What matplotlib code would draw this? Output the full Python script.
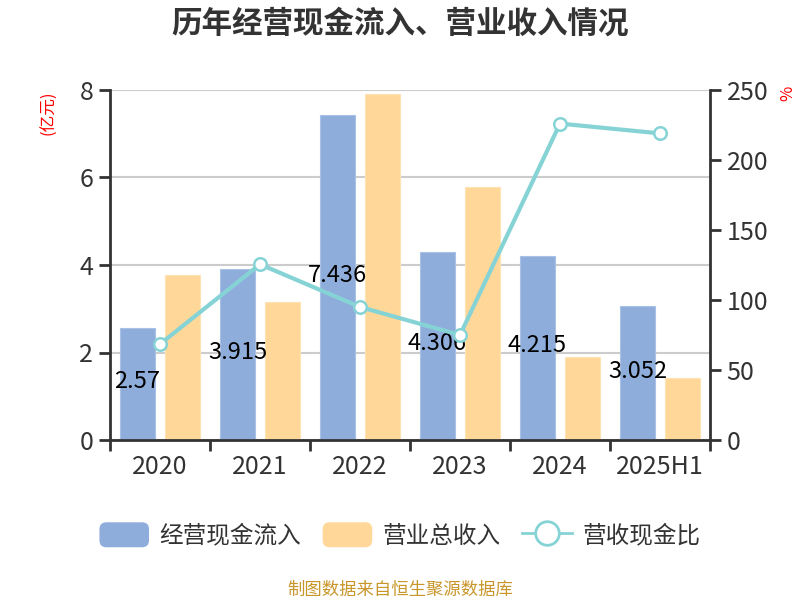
import matplotlib
matplotlib.use("Agg")
import matplotlib.pyplot as plt
import numpy as np
from matplotlib.patches import FancyBboxPatch, Patch
from matplotlib.lines import Line2D
from matplotlib.legend_handler import HandlerPatch

plt.rcParams['font.family'] = ['Noto Sans CJK SC', 'DejaVu Sans']

categories = ['2020', '2021', '2022', '2023', '2024', '2025H1']
cash_inflow = [2.57, 3.915, 7.436, 4.306, 4.215, 3.052]
revenue = [3.77, 3.15, 7.91, 5.78, 1.90, 1.42]
ratio = [68.5, 125.5, 95.0, 75.0, 226.0, 219.0]

blue = '#8FADDB'
orange = '#FFD899'
teal = '#86D3D6'
dark = '#333333'

fig = plt.figure(figsize=(8, 6), dpi=100)
ax = fig.add_axes([110/800, 160/600, 600/800, 350/600])
x = np.arange(len(categories))
w = 0.35
ax.bar(x - 0.225, cash_inflow, w, color=blue, edgecolor='#A9C1E6', linewidth=0.8, zorder=2)
ax.bar(x + 0.225, revenue, w, color=orange, edgecolor='#FFE2B3', linewidth=0.8, zorder=2)
for xi, v in zip(x, cash_inflow):
    ax.text(xi - 0.225, v / 2 + 0.05, f'{v:g}', ha='center', va='center', fontsize=17,
            color='black', zorder=3)

ax.set_xlim(-0.5, len(categories) - 0.5)
ax.set_ylim(0, 8)
ax.set_yticks([0, 2, 4, 6, 8])
ax.yaxis.grid(True, color='#CCCCCC', linewidth=1.5, zorder=0)
ax.set_axisbelow(True)
ax.set_xticks(x)
ax.set_xticklabels(categories)
ax.set_xticks(np.arange(-0.5, len(categories)), minor=True)
ax.tick_params(axis='x', which='major', length=0, pad=10, labelsize=18, labelcolor=dark)
ax.tick_params(axis='x', which='minor', length=8, width=2, color=dark, direction='out')
ax.tick_params(axis='y', length=8, width=2, color=dark, labelsize=18, labelcolor=dark, pad=4)
for s in ['top', 'right']:
    ax.spines[s].set_visible(False)
for s in ['left', 'bottom']:
    ax.spines[s].set_color(dark)
    ax.spines[s].set_linewidth(2)
ax.set_ylabel('(亿元)', color='red', fontsize=12)
ax.yaxis.set_label_coords(-0.088, 0.935)

ax2 = ax.twinx()
ax2.plot(x, ratio, color=teal, linewidth=3, marker='o', markersize=9,
         markerfacecolor='white', markeredgecolor=teal, markeredgewidth=1.8, zorder=5)
ax2.set_ylim(0, 250)
ax2.set_yticks([0, 50, 100, 150, 200, 250])
ax2.tick_params(axis='y', length=8, width=2, color=dark, labelsize=18, labelcolor=dark, pad=4)
for s in ['top', 'left', 'bottom']:
    ax2.spines[s].set_visible(False)
ax2.spines['right'].set_color(dark)
ax2.spines['right'].set_linewidth(2)
ax2.set_ylabel('%', color='red', fontsize=12)
ax2.yaxis.set_label_coords(1.115, 0.99)

fig.text(0.5, 1 - 24/600, '历年经营现金流入、营业收入情况', ha='center', va='center',
         fontsize=22, fontweight='bold', color=dark)
fig.text(0.5, 1 - 590/600, '制图数据来自恒生聚源数据库', ha='center', va='center',
         fontsize=12.5, color='#C8962A')


class HandlerRound(HandlerPatch):
    def create_artists(self, legend, orig_handle, xdescent, ydescent, width, height, fontsize, trans):
        p = FancyBboxPatch((-xdescent, -ydescent), width, height,
                           boxstyle='round,pad=0,rounding_size=5',
                           facecolor=orig_handle.get_facecolor(), edgecolor='none',
                           transform=trans)
        return [p]


h1 = Patch(facecolor=blue, label='经营现金流入')
h2 = Patch(facecolor=orange, label='营业总收入')
h3 = Line2D([], [], color=teal, linewidth=2, marker='o', markersize=17,
            markerfacecolor='white', markeredgecolor=teal, markeredgewidth=2, label='营收现金比')
leg = fig.legend(handles=[h1, h2, h3], loc='center', bbox_to_anchor=(0.5, 1 - 535/600),
                 ncol=3, frameon=False, fontsize=17, handlelength=2.1, handleheight=1.25,
                 handletextpad=0.45, columnspacing=0.9,
                 handler_map={Patch: HandlerRound()})
for t in leg.get_texts():
    t.set_color(dark)

fig.savefig('out.png', dpi=100)
